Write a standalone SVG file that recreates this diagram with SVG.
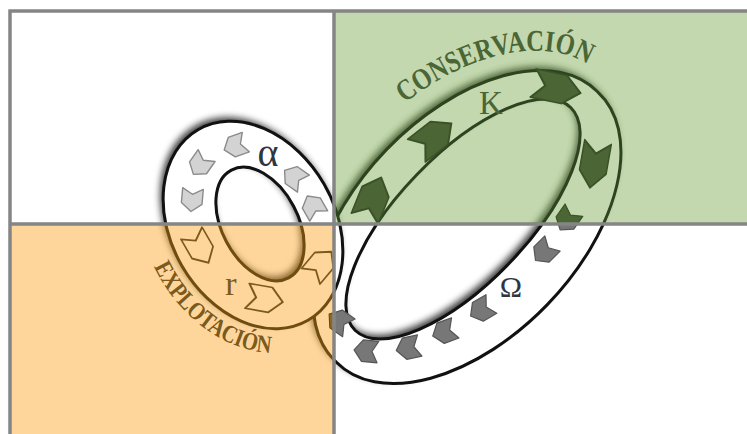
<svg xmlns="http://www.w3.org/2000/svg" width="747" height="434" viewBox="0 0 747 434">
<style>
  .grid{stroke:#858585;stroke-width:3.5;fill:none}
  .lbl{font-family:"Liberation Serif","DejaVu Serif",serif;text-anchor:middle}
  .arc{font-family:"Liberation Serif","DejaVu Serif",serif;font-weight:bold}
</style>
<defs>
  <filter id="blur" x="-20%" y="-20%" width="140%" height="140%"><feGaussianBlur stdDeviation="3.8"/></filter>
  <clipPath id="cTL"><rect x="0" y="0" width="334" height="224"/></clipPath>
  <clipPath id="cTR"><rect x="334" y="0" width="413" height="224"/></clipPath>
  <clipPath id="cBL"><rect x="0" y="224" width="334" height="210"/></clipPath>
  <clipPath id="cBR"><rect x="334" y="224" width="413" height="210"/></clipPath>
  <path id="arw" d="M-10,-9 L3,-9 L10,0 L3,9 L-10,9 L-5,0 Z"/>
  <path id="bigBand" d="M597.6,91.8 A188,110 -46 1 1 336.4,362.2 A188,110 -46 1 1 597.6,91.8 Z M570.7,107.5 A155,64 -46 1 1 355.3,330.5 A155,64 -46 1 1 570.7,107.5 Z"/>
  <path id="smallBand" d="M308,320.3 A110,82 60 1 1 198,129.7 A110,82 60 1 1 308,320.3 Z M288.6,277.9 A61,38 62 1 1 231.4,170.1 A61,38 62 1 1 288.6,277.9 Z"/>
  <path id="pCons" d="M388,117.2 A202,124 -46 0 1 607.3,81.7"/>
  <path id="pExpl" d="M146.5,248 A134,106 60 0 0 283.5,352.6"/>
  <g id="rings">
    <g id="big-ring">
      <use href="#bigBand" style="fill:var(--sh);fill-rule:evenodd;opacity:.78" filter="url(#blur)" transform="translate(-3,-4)"/>
      <use href="#bigBand" style="fill:var(--band);stroke:var(--line);stroke-width:3;fill-rule:evenodd"/>
      <g style="fill:var(--ba);stroke:var(--bas);stroke-width:1;stroke-linejoin:round">
        <use href="#arw" transform="translate(373,198) rotate(-68) scale(2.2,1.6)"/>
        <use href="#arw" transform="translate(434,137) rotate(-38) scale(2.2,1.6)"/>
        <use href="#arw" transform="translate(557,88) rotate(12) scale(2.4,1.6)"/>
        <use href="#arw" transform="translate(594,165) rotate(100) scale(2.3,1.5)"/>
        <use href="#arw" transform="translate(567,220) rotate(125) scale(1.2)"/>
        <use href="#arw" transform="translate(544,252) rotate(135) scale(1.2)"/>
        <use href="#arw" transform="translate(481,310) rotate(150) scale(1.2)"/>
        <use href="#arw" transform="translate(444,332) rotate(160) scale(1.2)"/>
        <use href="#arw" transform="translate(408,348) rotate(168) scale(1.2)"/>
        <use href="#arw" transform="translate(366,351) rotate(185) scale(1.2)"/>
        <use href="#arw" transform="translate(339,321) rotate(215) scale(1.2)"/>
      </g>
    </g>
    <g id="small-ring">
      <use href="#smallBand" style="fill:var(--sh);fill-rule:evenodd;opacity:.78" filter="url(#blur)" transform="translate(-3,-4)"/>
      <use href="#smallBand" style="fill:var(--band);stroke:var(--line);stroke-width:3;fill-rule:evenodd"/>
      <g style="fill:var(--sa);stroke:var(--sas);stroke-width:1.2;stroke-linejoin:round">
        <use href="#arw" transform="translate(192,200) rotate(95) scale(1.15)"/>
        <use href="#arw" transform="translate(200,165) rotate(125) scale(1.15)"/>
        <use href="#arw" transform="translate(235,146) rotate(160) scale(1.15)"/>
        <use href="#arw" transform="translate(294,177) rotate(215) scale(1.15)"/>
        <use href="#arw" transform="translate(313,206) rotate(240) scale(1.15)"/>
        <use href="#arw" transform="translate(200,248) rotate(60) scale(1.7,1.35)"/>
        <use href="#arw" transform="translate(265,299) rotate(10) scale(1.8,1.4)"/>
        <use href="#arw" transform="translate(321,264) rotate(-50) scale(1.6,1.35)"/>
      </g>
    </g>
  </g>
</defs>

<g id="background">
  <rect x="0" y="0" width="747" height="434" fill="#ffffff"/>
  <rect x="334" y="11" width="413" height="213" fill="#c3d8ae"/>
  <rect x="10" y="224" width="324" height="210" fill="#fed69c"/>
</g>

<g id="quadrant-reorganizacion" clip-path="url(#cTL)">
  <use href="#rings" style="--band:#ffffff;--line:#111111;--sh:#000000;--sa:#d3d3d3;--sas:#8a8a8a;--ba:#777777;--bas:#555555"/>
</g>
<g id="quadrant-conservacion" clip-path="url(#cTR)">
  <use href="#rings" style="--band:#c3d8ae;--line:#2e4420;--sh:#2e4a1e;--sa:#4b6535;--sas:#3a5228;--ba:#4b6535;--bas:#3a5228"/>
</g>
<g id="quadrant-explotacion" clip-path="url(#cBL)">
  <use href="#rings" style="--band:#fed69c;--line:#6e4c12;--sh:#6e4c12;--sa:#fed69c;--sas:#7b5a1c;--ba:#8a6a2a;--bas:#6e4c12"/>
</g>
<g id="quadrant-liberacion" clip-path="url(#cBR)">
  <use href="#rings" style="--band:#ffffff;--line:#111111;--sh:#000000;--sa:#f4f4f4;--sas:#999999;--ba:#777777;--bas:#555555"/>
</g>

<g id="grid">
  <path class="grid" d="M8.5,11 H747 M10,9.5 V434 M334,11 V434 M10,224 H747"/>
</g>

<g id="label-conservacion">
  <text class="arc" font-size="30" fill="#4b6535"><textPath href="#pCons" startOffset="22" textLength="198" lengthAdjust="spacingAndGlyphs">CONSERVACIÓN</textPath></text>
</g>
<g id="label-explotacion">
  <text class="arc" font-size="25" fill="#7b5a1c"><textPath href="#pExpl" startOffset="20" textLength="152" lengthAdjust="spacingAndGlyphs">EXPLOTACIÓN</textPath></text>
</g>
<g id="phase-alpha"><text class="lbl" x="268" y="166" font-size="40" fill="#2f3640">α</text></g>
<g id="phase-K"><text class="lbl" x="491" y="114" font-size="33" fill="#4b6535">K</text></g>
<g id="phase-r"><text class="lbl" x="231" y="295" font-size="34" fill="#7b5a1c">r</text></g>
<g id="phase-omega"><text class="lbl" x="511" y="297" font-size="30" fill="#2f3640">Ω</text></g>
</svg>
